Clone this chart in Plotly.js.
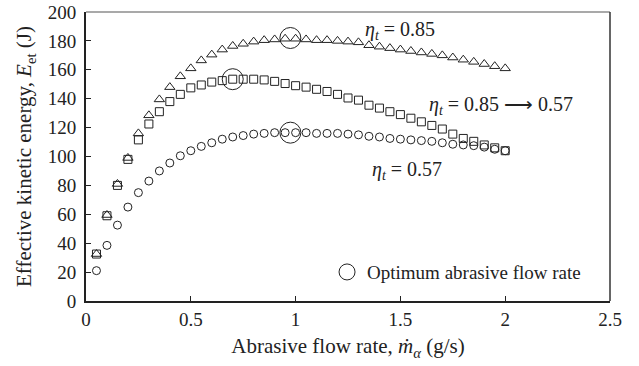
<!DOCTYPE html>
<html>
<head>
<meta charset="utf-8">
<script src="https://cdn.plot.ly/plotly-3.0.1.min.js"></script>
<style>html,body{margin:0;padding:0;background:#fff;}#chart{width:639px;height:366px;}</style>
</head>
<body>
<div id="chart"></div>
<script>
// Abrasive flow rate (g/s)
const flowRate = [0.05,0.10,0.15,0.20,0.25,0.30,0.35,0.40,0.45,0.50,
                  0.55,0.60,0.65,0.70,0.75,0.80,0.85,0.90,0.95,1.00,
                  1.05,1.10,1.15,1.20,1.25,1.30,1.35,1.40,1.45,1.50,
                  1.55,1.60,1.65,1.70,1.75,1.80,1.85,1.90,1.95,2.00];
// eta_t = 0.85 (triangles)
const energyEta085 = [32.5,59.5,81,99,116,128.5,139.5,148,155.5,161,
                      166.5,170.5,174,176.5,178,179.5,180.5,181,181.5,181.5,
                      181,180.5,180.5,180,179.5,179,177,176,175,174,
                      173,172,171,170,168.5,167,165.5,164,162.5,161];
// eta_t = 0.85 -> 0.57 (squares)
const energyEtaVar = [32.5,59,80,98,111.5,122.5,131,138,143,147.5,
                      149.5,151.5,152.5,153.5,153.5,153.5,153,152,150.5,149,
                      148,146.5,145,143,140.5,139,135.5,133.5,131,129,
                      126.5,124,121.5,119,115.5,112.5,110.5,108,106,104];
// eta_t = 0.57 (circles)
const energyEta057 = [21,38.5,52.5,65,75,83,90,95.5,100.5,104,
                      107,109.5,112,113.5,114.5,115.5,116,116.5,116.5,116.5,
                      116.5,116,116,116,115.5,115,114,113.5,112.5,112,
                      111.5,111,110.5,109.5,108.5,108,107.5,106.5,105,104];
// Optimum abrasive flow rate points
const optimumRate = [0.975, 0.70, 0.975];
const optimumEnergy = [182, 153.5, 116.5];

const xTickVals = [0, 0.5, 1, 1.5, 2, 2.5];
const xTickText = ['0', '0.5', '1', '1.5', '2', '2.5'];
const yTickVals = [0,20,40,60,80,100,120,140,160,180,200];

const FONT = 'Liberation Serif, Times New Roman, serif';
const INK = '#222';

const traces = [
  {x: flowRate, y: energyEta085, mode: 'markers', type: 'scatter', showlegend: false,
   marker: {symbol: 'triangle-up-open', size: 9, color: INK, line: {width: 1, color: INK}}},
  {x: flowRate, y: energyEtaVar, mode: 'markers', type: 'scatter', showlegend: false,
   marker: {symbol: 'square-open', size: 8, color: INK, line: {width: 1, color: INK}}},
  {x: flowRate, y: energyEta057, mode: 'markers', type: 'scatter', showlegend: false,
   marker: {symbol: 'circle-open', size: 8, color: INK, line: {width: 1, color: INK}}},
  {x: optimumRate, y: optimumEnergy, mode: 'markers', type: 'scatter', showlegend: true,
   name: 'Optimum abrasive flow rate',
   marker: {symbol: 'circle-open', size: 21, color: INK, line: {width: 1, color: INK}}}
];

const layout = {
  width: 639, height: 366,
  margin: {l: 86, r: 29, t: 12, b: 65, pad: 0},
  paper_bgcolor: '#fff', plot_bgcolor: '#fff',
  font: {family: FONT, size: 19, color: INK},
  showlegend: true,
  legend: {x: 0.46, y: 0.1, xanchor: 'left', yanchor: 'middle', bgcolor: 'rgba(0,0,0,0)',
           font: {family: FONT, size: 19, color: INK}, itemsizing: 'trace'},
  xaxis: {
    range: [0, 2.5], tickvals: xTickVals, ticktext: xTickText,
    ticks: 'inside', ticklen: 5, tickwidth: 1, tickcolor: INK,
    showline: true, linecolor: INK, linewidth: 2, mirror: false,
    showgrid: false, zeroline: false,
    tickfont: {family: FONT, size: 19, color: INK},
    title: {text: 'Abrasive flow rate, <i>ṁ</i><sub><i>α</i></sub> (g/s)', font: {family: FONT, size: 21, color: INK}, standoff: 10}
  },
  yaxis: {
    range: [0, 200], tickvals: yTickVals,
    ticks: 'inside', ticklen: 5, tickwidth: 1, tickcolor: INK,
    showline: true, linecolor: INK, linewidth: 2, mirror: false,
    showgrid: false, zeroline: false, ticklabelstandoff: 4,
    tickfont: {family: FONT, size: 19, color: INK},
    title: {text: 'Effective kinetic energy, <i>E</i><sub>et</sub> (J)', font: {family: FONT, size: 21, color: INK}, standoff: 10}
  },
  shapes: [
    {type: 'line', xref: 'paper', yref: 'paper', x0: 0, x1: 1, y0: 1, y1: 1, line: {color: '#555', width: 1.2}},
    {type: 'line', xref: 'paper', yref: 'paper', x0: 1, x1: 1, y0: 0, y1: 1, line: {color: '#333', width: 1.5}}
  ],
  annotations: [
    {x: 1.32, y: 187, xref: 'x', yref: 'y', xanchor: 'left', yanchor: 'middle', showarrow: false,
     text: '<i>η</i><sub><i>t</i></sub> = 0.85', font: {family: FONT, size: 20, color: INK}},
    {x: 1.627, y: 135.5, xref: 'x', yref: 'y', xanchor: 'left', yanchor: 'middle', showarrow: false,
     text: '<i>η</i><sub><i>t</i></sub> = 0.85 ⟶ 0.57', font: {family: FONT, size: 20, color: INK}},
    {x: 1.355, y: 90, xref: 'x', yref: 'y', xanchor: 'left', yanchor: 'middle', showarrow: false,
     text: '<i>η</i><sub><i>t</i></sub> = 0.57', font: {family: FONT, size: 20, color: INK}}
  ]
};

Plotly.newPlot('chart', traces, layout, {displayModeBar: false, staticPlot: true});
</script>
</body>
</html>
